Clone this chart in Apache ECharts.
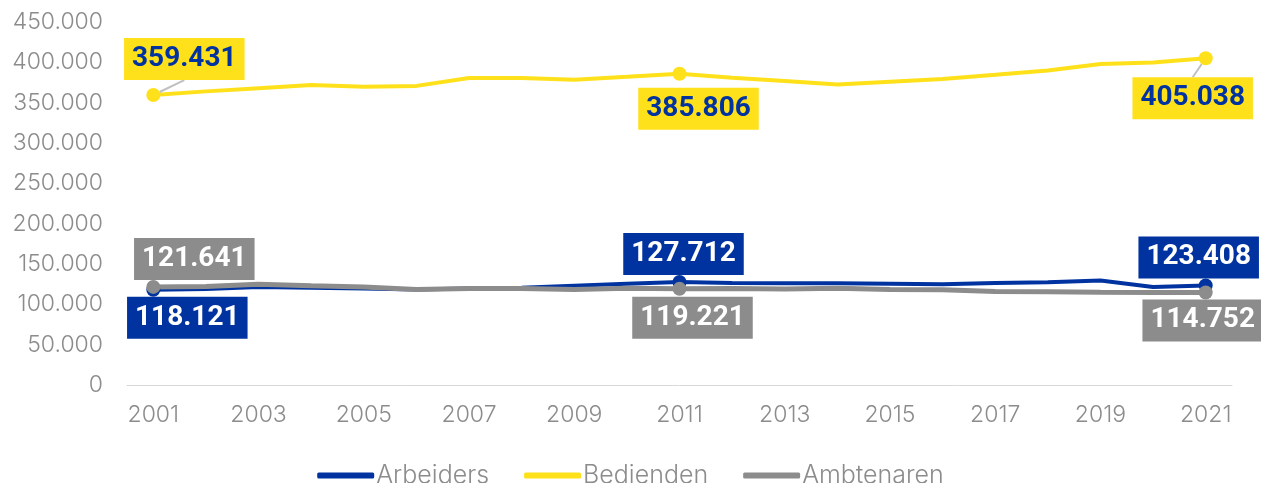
<!DOCTYPE html>
<html>
<head>
<meta charset="utf-8">
<script src="https://cdn.jsdelivr.net/npm/echarts@6/dist/echarts.min.js"></script>
<style>
  html, body { margin: 0; padding: 0; background: #fff; }
  #main { width: 1261px; height: 483px; }
</style>
</head>
<body>
<div id="main"></div>
<script>
// jaren
const years = ['2001','2002','2003','2004','2005','2006','2007','2008','2009','2010','2011',
  '2012','2013','2014','2015','2016','2017','2018','2019','2020','2021'];

// aantallen per statuut
const arbeiders = [118121, 119000, 121500, 120500, 119500, 118500, 119500, 120500, 123000, 125500, 127712,
  126500, 126000, 126000, 125500, 125000, 126500, 127500, 129500, 121500, 123408];
const bedienden = [359431, 364000, 368000, 372000, 369700, 370800, 380700, 380700, 378300, 382000, 385806,
  381000, 377000, 372500, 376000, 379400, 384500, 390000, 397800, 399900, 405038];
const ambtenaren = [121641, 122000, 125000, 123000, 121500, 118500, 119500, 119500, 118500, 120000, 119221,
  119500, 119000, 120000, 118500, 118000, 116000, 115500, 115000, 114800, 114752];

// welke jaren krijgen een label
const labelYears = [0, 10, 20];

const yTicks = [0, 50000, 100000, 150000, 200000, 250000, 300000, 350000, 400000, 450000];

const BLUE = '#0033a0';
const YELLOW = '#ffe11b';
const GREY = '#8c8c8c';

function fmt(v) {
  return String(v).replace(/\B(?=(\d{3})+(?!\d))/g, '.');
}

// label posities: [position, distance, dx, leader]
const labelPos = {
  Arbeiders: [['bottom', 0, 34, false], ['top', 0, 4, false], ['top', 0, -7, false]],
  Bedienden: [['top', 8, 31, true], ['bottom', 7, 19, false], ['bottom', 12, -13, true]],
  Ambtenaren: [['top', 0, 41, false], ['bottom', 1, 13, false], ['bottom', 0, -3, false]]
};

function makeSeries(name, values, color, textColor, width) {
  const pos = labelPos[name];
  const data = values.map((v, i) => {
    const k = labelYears.indexOf(i);
    if (k < 0) return { value: v };
    return {
      value: v,
      symbol: 'circle',
      symbolSize: 14,
      label: { show: true, position: pos[k][0], distance: pos[k][1] },
      labelLine: { show: pos[k][3] }
    };
  });
  return {
    name: name,
    type: 'line',
    data: data,
    symbol: 'none',
    color: color,
    lineStyle: { width: width, color: color },
    itemStyle: { color: color },
    label: {
      show: false,
      formatter: p => fmt(p.value),
      backgroundColor: color,
      color: textColor,
      fontFamily: 'Roboto',
      fontWeight: 'bold',
      fontSize: 28,
      lineHeight: 32,
      padding: [5, 8, 5, 8]
    },
    labelLine: { show: false, lineStyle: { color: '#c0c0c0', width: 2 } },
    labelLayout: p => {
      const k = labelYears.indexOf(p.dataIndex);
      return k < 0 ? {} : { dx: pos[k][2] };
    },
    emphasis: { disabled: true },
    z: name === 'Bedienden' ? 3 : 2
  };
}

const myChart = echarts.init(document.getElementById('main'));

const option = {
  animation: false,
  grid: { left: 127, right: 29, top: 22, bottom: 98 },
  legend: {
    top: 458,
    left: 'center',
    itemWidth: 57,
    itemHeight: 6,
    itemGap: 35,
    icon: 'roundRect',
    textStyle: { color: '#8c8c8c', fontSize: 25, fontFamily: 'Inter', fontWeight: 300, padding: [0, 0, 0, -3] },
    data: ['Arbeiders', 'Bedienden', 'Ambtenaren']
  },
  xAxis: {
    type: 'category',
    data: years,
    boundaryGap: true,
    axisTick: { show: false },
    axisLine: { lineStyle: { color: '#d9d9d9', width: 1 } },
    axisLabel: {
      interval: 1,
      color: '#8c8c8c',
      fontSize: 23,
      fontFamily: 'Inter',
      fontWeight: 300,
      margin: 19
    }
  },
  yAxis: {
    type: 'value',
    min: yTicks[0],
    max: yTicks[yTicks.length - 1],
    interval: 50000,
    axisLine: { show: false },
    axisTick: { show: false },
    splitLine: { show: false },
    axisLabel: {
      color: '#8c8c8c',
      fontSize: 23,
      fontFamily: 'Inter',
      fontWeight: 300,
      margin: 24,
      formatter: v => fmt(v)
    }
  },
  series: [
    makeSeries('Arbeiders', arbeiders, BLUE, '#ffffff', 4),
    makeSeries('Bedienden', bedienden, YELLOW, BLUE, 4),
    makeSeries('Ambtenaren', ambtenaren, GREY, '#ffffff', 5)
  ]
};

myChart.setOption(option);
</script>
</body>
</html>
